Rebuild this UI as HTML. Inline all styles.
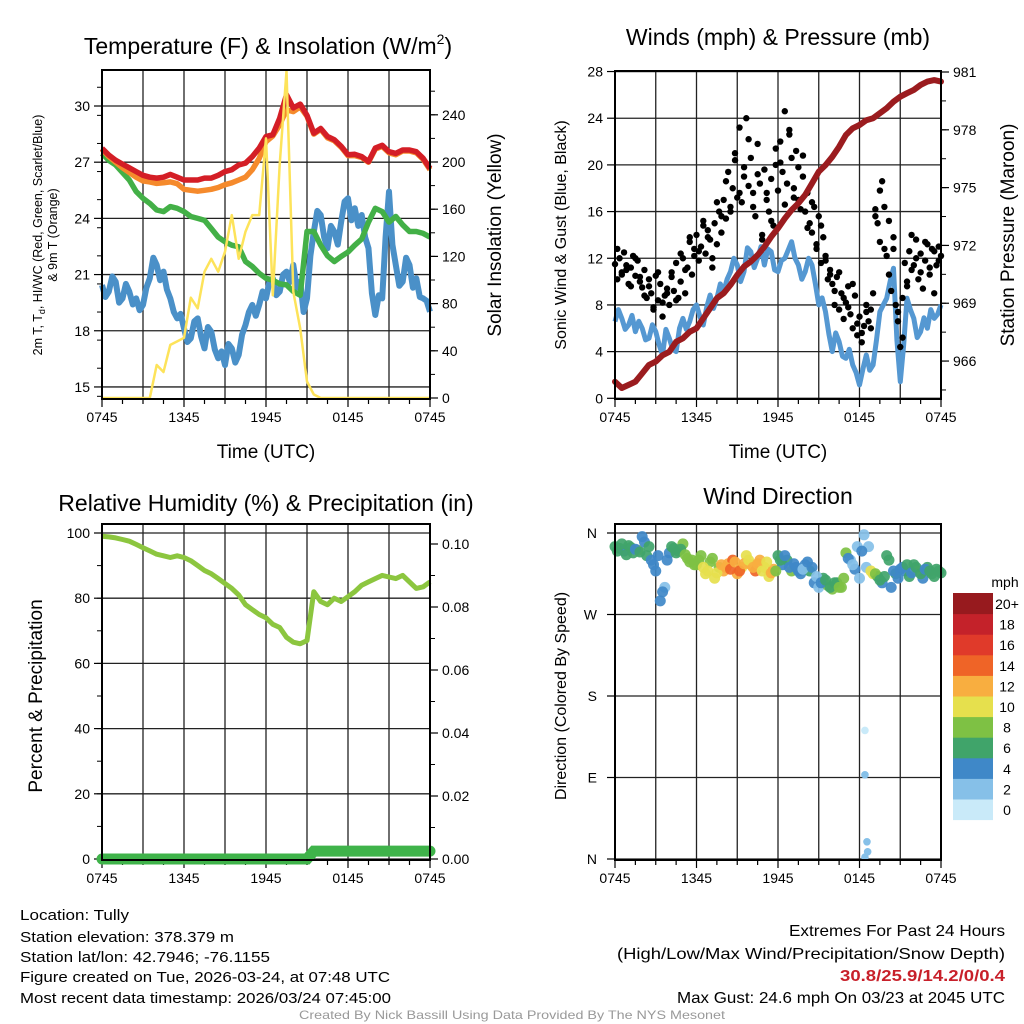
<!DOCTYPE html>
<html><head><meta charset="utf-8"><style>
html,body{margin:0;padding:0;background:#fff;}
svg{display:block;font-family:"Liberation Sans",Arial,sans-serif;}
</style></head><body>
<svg id="chart" width="1024" height="1024" viewBox="0 0 1024 1024" xmlns="http://www.w3.org/2000/svg">
<rect x="0" y="0" width="1024" height="1024" fill="#fff"/>
<g id="p1"></g>
<g id="p2"></g>
<g id="p3"></g>
<g id="p4"></g>
<g id="cb"></g>

<text x="268" y="54" font-size="23" text-anchor="middle">Temperature (F) &amp; Insolation (W/m<tspan font-size="14" dy="-10">2</tspan><tspan dy="10">)</tspan></text>
<text x="778" y="45" font-size="23" text-anchor="middle">Winds (mph) &amp; Pressure (mb)</text>
<text x="266" y="511" font-size="23" text-anchor="middle">Relative Humidity (%) &amp; Precipitation (in)</text>
<text x="778" y="504" font-size="23" text-anchor="middle">Wind Direction</text>

<text x="266" y="458" font-size="19" text-anchor="middle">Time (UTC)</text>
<text x="778" y="458" font-size="19" text-anchor="middle">Time (UTC)</text>

<text transform="translate(42,235) rotate(-90)" font-size="12.5" text-anchor="middle">2m T, T<tspan font-size="9" dy="3">d</tspan><tspan dy="-3">, HI/WC (Red, Green, Scarlet/Blue)</tspan></text>
<text transform="translate(57,235) rotate(-90)" font-size="12.5" text-anchor="middle">&amp; 9m T (Orange)</text>
<text transform="translate(501,235) rotate(-90)" font-size="19" text-anchor="middle">Solar Insolation (Yellow)</text>
<text transform="translate(566,235) rotate(-90)" font-size="16" text-anchor="middle">Sonic Wind &amp; Gust (Blue, Black)</text>
<text transform="translate(1014,235) rotate(-90)" font-size="19" text-anchor="middle">Station Pressure (Maroon)</text>
<text transform="translate(42,696) rotate(-90)" font-size="19" text-anchor="middle">Percent &amp; Precipitation</text>
<text transform="translate(566,696) rotate(-90)" font-size="16" text-anchor="middle">Direction (Colored By Speed)</text>

<g font-size="15">
<text x="20" y="920" textLength="109" lengthAdjust="spacingAndGlyphs">Location: Tully</text>
<text x="20" y="942" textLength="214" lengthAdjust="spacingAndGlyphs">Station elevation: 378.379 m</text>
<text x="20" y="962" textLength="250" lengthAdjust="spacingAndGlyphs">Station lat/lon: 42.7946; -76.1155</text>
<text x="20" y="982" textLength="370" lengthAdjust="spacingAndGlyphs">Figure created on Tue, 2026-03-24, at 07:48 UTC</text>
<text x="20" y="1003" textLength="371" lengthAdjust="spacingAndGlyphs">Most recent data timestamp: 2026/03/24 07:45:00</text>
</g>
<g font-size="16" text-anchor="end">
<text x="1005" y="936" textLength="216" lengthAdjust="spacingAndGlyphs">Extremes For Past 24 Hours</text>
<text x="1005" y="959" textLength="388" lengthAdjust="spacingAndGlyphs">(High/Low/Max Wind/Precipitation/Snow Depth)</text>
<text x="1005" y="981" fill="#c8202a" font-weight="bold" textLength="165" lengthAdjust="spacingAndGlyphs">30.8/25.9/14.2/0/0.4</text>
<text x="1005" y="1003" textLength="328" lengthAdjust="spacingAndGlyphs">Max Gust: 24.6 mph On 03/23 at 2045 UTC</text>
</g>
<text x="512" y="1019" font-size="12" fill="#999" text-anchor="middle" textLength="426" lengthAdjust="spacingAndGlyphs">Created By Nick Bassill Using Data Provided By The NYS Mesonet</text>
</svg>
<script>
// ---------- data ----------
const xTickLabels = ["0745","1345","1945","0145","0745"];
const tempTicks = [15,18,21,24,27,30];
const solarTicks = [0,40,80,120,160,200,240];
const windTicks = [0,4,8,12,16,20,24,28];
const pressTicks = [966,969,972,975,978,981];
const rhTicks = [0,20,40,60,80,100];
const precipTicks = [0,0.02,0.04,0.06,0.08,0.10];
const dirTicks = [0,90,180,270,360];
const dirLabels = ["N","E","S","W","N"];
const speedBins = ["0","2","4","6","8","10","12","14","16","18","20+"];
const speedColors = ["#c9eaf9","#86c0e8","#3f88c8","#40a46a","#7ec144","#e6e04d","#f8ae40","#ef6427","#e03a2a","#c4222a","#971a1e"];

const tempRed = [27.74,27.38,27.1,26.9,26.7,26.5,26.3,26.2,26.15,26.2,26.35,26.2,26.05,26.05,26.05,26.15,26.15,26.3,26.5,26.6,26.85,26.95,27.3,27.75,28.37,28.46,29.35,30.6,29.9,30.1,29.5,28.55,28.8,28.37,28.2,27.85,27.4,27.42,27.3,27.03,27.75,27.9,27.56,27.47,27.65,27.65,27.56,27.2,26.67];
const temp9m = [27.7,27.3,27.0,26.7,26.45,26.2,26.0,25.95,25.87,25.9,25.95,25.85,25.55,25.5,25.45,25.5,25.55,25.65,25.8,25.9,26.05,26.2,26.6,27.2,28.1,28.4,29.0,29.8,29.7,29.95,29.45,28.5,28.75,28.3,28.15,27.8,27.35,27.35,27.25,27.0,27.7,27.85,27.5,27.4,27.6,27.6,27.5,27.15,26.6];
const tempHI = [27.47,27.1,26.85,26.45,26.05,25.43,25.07,24.8,24.45,24.36,24.63,24.54,24.36,24.1,24.0,23.9,23.46,23.0,22.75,22.57,22.48,21.7,21.43,21.07,20.8,20.7,20.5,20.45,20.1,19.9,23.3,23.3,22.57,22.0,21.7,21.97,22.2,22.57,22.9,23.8,24.54,24.36,23.8,24.1,23.65,23.3,23.3,23.2,23.0];
const dewpoint = [20.44,19.8,20.09,20.9,20.62,19.5,19.73,20.5,20.09,19.4,19.73,19.1,19.38,20.3,20.8,21.9,21.51,20.7,21.16,20.2,19.73,19.0,18.66,18.9,18.13,17.4,17.6,18.5,18.66,17.7,17.06,18.2,17.95,17.0,16.53,16.9,16.17,17.3,17.06,16.3,16.71,17.8,18.31,19.0,19.38,18.8,19.38,20.1,19.73,20.6,20.8,19.9,20.09,21.0,21.16,20.6,21.51,20.3,20.62,19.0,19.73,22.0,23.29,24.4,24.18,23.0,22.4,23.6,23.29,22.6,23.83,24.9,25.07,23.9,24.54,23.6,24.18,23.0,22.4,20.0,18.84,19.9,19.73,23.0,25.43,22.6,21.51,20.4,20.62,21.9,21.51,20.3,20.8,19.8,19.73,19.6,19.02];
const solar = [0,0,0,0,0,0,0,0,28,22,45,48,51,85,76,107,118,107,124,155,118,141,155,155,220,87,198,277,90,59,14,3,0,0,0,0,0,0,0,0,0,0,0,0,0,0,0,0,0];

const windSpeed = [6.57,7.6,6.85,5.9,6.28,7.1,5.71,6.6,6.0,5.0,5.14,6.3,5.71,4.6,3.71,5.9,5.14,4.2,4.0,6.0,6.85,5.9,6.57,7.6,8.0,7.0,6.28,7.8,8.85,7.7,8.57,9.8,9.14,10.2,10.85,12.0,11.42,10.0,10.85,12.9,12.56,11.2,12.0,13.0,11.42,12.8,12.56,11.0,10.85,11.8,12.0,12.7,13.42,12.0,11.42,10.2,10.85,12.0,11.42,9.8,8.0,8.6,7.42,5.5,4.0,5.6,4.85,3.6,3.43,4.2,2.86,2.2,1.14,2.5,3.71,2.4,2.86,5.0,7.42,8.0,8.57,10.0,11.14,5.0,1.42,4.5,8.57,7.6,6.85,5.2,5.71,6.9,6.0,7.6,6.85,7.2,8.0];
const windGust = [11.5,10.2,12.0,10.8,12.5,11.0,9.8,11.2,12.2,10.5,11.8,10.0,9.5,11.0,8.6,10.2,9.0,7.6,10.5,8.4,9.8,7.0,8.8,9.4,8.0,10.4,9.2,11.6,8.6,10.0,12.0,9.0,11.2,13.4,10.6,12.8,14.0,11.8,13.0,15.2,12.4,14.4,13.6,11.2,15.0,13.2,16.0,14.2,17.0,15.4,19.4,16.4,18.0,21.0,17.2,23.2,16.8,19.0,24.0,18.2,20.6,17.6,15.6,21.8,18.4,14.0,19.6,17.0,16.0,18.8,14.8,20.0,17.8,22.0,19.4,24.6,18.4,23.0,20.6,17.2,21.2,19.8,16.2,19.0,16.0,17.6,15.0,14.2,16.4,13.2,15.6,11.6,13.8,12.2,10.2,11.0,9.8,8.0,10.4,7.6,9.0,6.8,8.2,9.6,7.2,6.0,8.8,5.4,7.0,4.8,6.2,8.0,6.6,7.6,9.0,16.2,15.0,13.4,18.6,16.4,12.2,15.2,9.2,12.8,8.0,6.6,4.4,8.6,11.6,10.0,12.6,14.0,11.4,13.6,10.2,12.4,9.4,11.8,13.2,10.6,12.8,9.0,11.4,13.0,12.2];
const windGust2 = [12.8,10.6,11.4,9.6,12.0,10.4,8.8,9.6,7.8,10.8,8.2,9.0,10.8,8.4,12.4,11.0,13.8,12.2,12.6,14.8,13.8,12.0,16.8,15.6,18.6,16.0,20.4,17.6,19.8,22.2,16.4,19.2,13.6,17.6,15.2,21.4,20.2,16.6,22.6,18.0,17.0,20.8,14.6,16.8,12.8,14.8,11.8,10.6,9.2,10.8,8.6,7.8,9.8,6.4,5.6,7.4,6.0,15.6,17.8,12.8,10.6,13.8,7.4,5.2,9.6,11.0,12.0,10.8,13.4,11.2,12.6,11.8];
const pressure = [964.93,964.6,964.76,964.93,965.36,965.8,965.97,966.3,966.48,967.0,967.18,967.52,967.7,968.22,968.74,969.26,969.52,969.95,970.47,970.9,971.16,971.5,971.93,972.45,972.89,973.4,973.84,974.19,974.62,975.22,975.83,976.17,976.6,977.12,977.73,978.08,978.25,978.5,978.6,978.86,979.12,979.46,979.72,979.9,980.07,980.33,980.5,980.58,980.5];

const humidity = [99,98.8,98.5,98,97.5,96.5,95.5,94.5,93.5,93,92.5,93,92.5,91.5,90,88.5,87.5,86,84.5,83,81,78,76.5,75,74,72,71,68,66.5,66,67,82,79,78,80,79,80.5,82,84,85,86,87,86.5,86,87,85,83,83.5,85];
const precip = [0,0,0,0,0,0,0,0,0,0,0,0,0,0,0,0,0,0,0,0,0,0,0,0,0,0,0,0,0,0,0,0.0025,0.0025,0.0025,0.0025,0.0025,0.0025,0.0025,0.0025,0.0025,0.0025,0.0025,0.0025,0.0025,0.0025,0.0025,0.0025,0.0025,0.0025];

const windDir = [345,343,340,346,338,341,356,335,330,318,285,300,338,343,340,348,332,330,325,335,315,328,310,322,318,326,330,315,322,335,325,318,330,322,312,320,335,325,330,318,322,315,325,318,305,300,310,302,298,305,300,338,330,320,310,358,345,315,312,305,335,300,315,320,318,312,325,318,310,322,315,320,316];
const dirSpeed = [6,6,5,7,6,8,4,6,5,4,4,3,5,7,6,8,8,9,8,9,10,8,11,9,12,13,15,12,11,10,13,14,12,11,10,13,7,5,6,8,5,4,4,6,4,3,7,8,8,7,9,8,3,4,3,2,3,10,6,5,7,5,6,4,5,6,7,8,5,6,7,6,6];
const windDir2 = [340,348,336,344,342,339,350,345,325,335,295,330,345,338,342,336,328,325,330,322,318,332,316,325,322,320,328,318,326,330,322,326,318,328,316,318,330,335,322,326,318,320,328,322,312,305,308,300,305,300,310,332,325,345,340,322,318,315,308,312,330,318,310,322,325,316,322,315,320,318,312,318];
const dirSpeed2 = [7,6,6,7,5,6,5,6,4,5,4,5,6,6,7,8,9,8,9,10,11,9,10,12,13,14,12,15,13,11,12,13,11,10,12,9,6,5,4,5,4,3,5,4,3,4,6,7,7,8,8,5,3,2,4,3,10,9,7,6,6,4,5,4,6,5,7,6,5,7,6,6];
const outlierHours = [18.4,18.4,18.55,18.6,18.4];
const outlierDir = [142,93,19,8,2];
const outlierSpeed = [1,3,2,3,3];

// ---------- helpers ----------
const NS = "http://www.w3.org/2000/svg";
function mk(parent, tag, attrs){
  const e = document.createElementNS(NS, tag);
  for (const k in attrs) e.setAttribute(k, attrs[k]);
  parent.appendChild(e);
  return e;
}
function hours(n,i){ return i*24/(n-1); }
function hours2(n,i){ return Math.min(24, i*24/n + 0.17); }
function pathFrom(arr, xf, yf){
  let d="";
  for(let i=0;i<arr.length;i++){ d += (i?"L":"M")+xf(hours(arr.length,i)).toFixed(1)+","+yf(arr[i]).toFixed(1); }
  return d;
}
function frame(g, L, T, R, B, xf, hgrid){
  for(let h=3;h<24;h+=3){
    const gl = mk(g,"line",{x1:xf(h),x2:xf(h),y1:T,y2:B,stroke:"#222","stroke-width":1.3});
    
    
  }
  hgrid.forEach(y=>{
    const hl = mk(g,"line",{x1:L,x2:R,y1:y,y2:y,stroke:"#222","stroke-width":1.3});
    
    
  });
  for(let h=0;h<=24;h+=1.5){
    const major = (h%6===0);
    const t = mk(g,"line",{x1:xf(h),x2:xf(h),y1:B,y2:B+(major?8:5),stroke:"#000","stroke-width":1.2});
    
    
  }
  xTickLabels.forEach((s,i)=>{
    const tx = mk(g,"text",{x:xf(i*6),y:B+23,"font-size":14,"text-anchor":"middle"});
    tx.textContent = s;
    
    
  });
}
function border(g,L,T,R,B){
  const b = mk(g,"rect",{x:L,y:T,width:R-L,height:B-T,fill:"none",stroke:"#000","stroke-width":2});
  
  
}
function yAxis(g, ticks, yf, x, side, fmt, minorStep, lo, hi){
  ticks.forEach(v=>{
    const y=yf(v);
    const t = mk(g,"line",{x1:x,x2:x+(side<0?-8:8),y1:y,y2:y,stroke:"#000","stroke-width":1.2});
    
    
    const tx = mk(g,"text",{x:x+(side<0?-12:12),y:y+5,"font-size":14,"text-anchor":side<0?"end":"start"});
    tx.textContent = fmt(v);
    
    
  });
  if(minorStep){
    for(let v=lo; v<=hi+1e-9; v+=minorStep){
      const y=yf(v);
      const m = mk(g,"line",{x1:x,x2:x+(side<0?-5:5),y1:y,y2:y,stroke:"#000","stroke-width":1});
      
      
    }
  }
}

// ---------- panel 1: temperature ----------
(function(){
  const g=document.getElementById("p1");
  const L=102,R=430,T=70,B=399;
  const X=h=>L+h*(R-L)/24;
  const Y=v=>106+(30-v)*18.73;
  const YS=v=>398-v*1.18;
  frame(g,L,T,R,B,X,tempTicks.map(Y));
  yAxis(g,tempTicks,Y,L,-1,v=>String(v),1.5,14.5,31.5);
  yAxis(g,solarTicks,YS,R,1,v=>String(v),20,0,270);
  const series=[[dewpoint,"#4a90c8",6,"dewpoint-line"],[tempHI,"#43b047",5.5,"heat-index-line"],[temp9m,"#f58a2c",5.5,"temp-9m-line"],[tempRed,"#d41e26",5.5,"temp-2m-line"]];
  series.forEach(s=>{
    const p=mk(g,"path",{d:pathFrom(s[0],X,Y),fill:"none",stroke:s[1],"stroke-width":s[2],"stroke-linejoin":"round"});
    
    
  });
  const ps=mk(g,"path",{d:pathFrom(solar,X,YS),fill:"none",stroke:"#fde35a","stroke-width":2.5,"stroke-linejoin":"round"});
  
  
  border(g,L,T,R,B);
})();

// ---------- panel 2: wind & pressure ----------
(function(){
  const g=document.getElementById("p2");
  const L=615,R=941,T=71,B=399;
  const X=h=>L+h*(R-L)/24;
  const Y=v=>398.3-v*11.67;
  const YP=v=>72+(981-v)*19.27;
  frame(g,L,T,R,B,X,windTicks.map(Y));
  yAxis(g,windTicks,Y,L,-1,v=>String(v),0,0,0);
  yAxis(g,pressTicks,YP,R,1,v=>String(v),1.5,964.5,981);
  const pw=mk(g,"path",{d:pathFrom(windSpeed,X,Y),fill:"none",stroke:"#5598d2","stroke-width":5,"stroke-linejoin":"round"});
  
  
  windGust.forEach((v,i)=>{
    const c=mk(g,"circle",{cx:X(hours(windGust.length,i)),cy:Y(v),r:3.2,fill:"#000"});
    
    
  });
  windGust2.forEach((v,i)=>{
    const c=mk(g,"circle",{cx:X(hours2(windGust2.length,i)),cy:Y(v),r:3.2,fill:"#000"});
    
    
  });
  const pp=mk(g,"path",{d:pathFrom(pressure,X,YP),fill:"none",stroke:"#9b1c1f","stroke-width":6,"stroke-linejoin":"round","stroke-linecap":"round"});
  
  
  border(g,L,T,R,B);
})();

// ---------- panel 3: humidity ----------
(function(){
  const g=document.getElementById("p3");
  const L=102,R=430,T=524,B=860;
  const X=h=>L+h*(R-L)/24;
  const Y=v=>859-v*3.26;
  const YP=v=>859-v*3150;
  frame(g,L,T,R,B,X,rhTicks.map(Y));
  yAxis(g,rhTicks,Y,L,-1,v=>String(v),10,0,100);
  yAxis(g,precipTicks,YP,R,1,v=>v.toFixed(2),0.01,0,0.1);
  const pr=mk(g,"path",{d:pathFrom(precip,X,YP),fill:"none",stroke:"#3fb34a","stroke-width":11,"stroke-linecap":"round"});
  
  
  const ph=mk(g,"path",{d:pathFrom(humidity,X,Y),fill:"none",stroke:"#8cc63f","stroke-width":5,"stroke-linejoin":"round"});
  
  
  border(g,L,T,R,B);
})();

// ---------- panel 4: wind direction ----------
function speedColor(s){ return speedColors[Math.min(10,Math.max(0,Math.floor(s/2)))]; }
(function(){
  const g=document.getElementById("p4");
  const L=615,R=941,T=524,B=860;
  const X=h=>L+h*(R-L)/24;
  const Y=v=>859-v*326/360;
  frame(g,L,T,R,B,X,dirTicks.map(Y));
  dirTicks.forEach((v,i)=>{
    const t=mk(g,"line",{x1:L,x2:L-8,y1:Y(v),y2:Y(v),stroke:"#000","stroke-width":1.2});
    
    
    const tx=mk(g,"text",{x:L-18,y:Y(v)+5,"font-size":14,"text-anchor":"end"});
    tx.textContent=dirLabels[i];
    
    
  });
  windDir.forEach((d,i)=>{
    const c=mk(g,"circle",{cx:X(hours(windDir.length,i)),cy:Y(d),r:5.5,fill:speedColor(dirSpeed[i]),"fill-opacity":0.92});
    
    
  });
  windDir2.forEach((d,i)=>{
    const c=mk(g,"circle",{cx:X(hours2(windDir2.length,i)),cy:Y(d),r:5.5,fill:speedColor(dirSpeed2[i]),"fill-opacity":0.92});
    
    
  });
  outlierDir.forEach((d,i)=>{
    const c=mk(g,"circle",{cx:X(outlierHours[i]),cy:Y(d),r:3.8,fill:speedColor(outlierSpeed[i])});
    
    
  });
  border(g,L,T,R,B);
})();

// ---------- colorbar ----------
(function(){
  const g=document.getElementById("cb");
  const top=593, h=20.6, x=953, w=40;
  const n=speedBins.length;
  const t=mk(g,"text",{x:1005,y:587,"font-size":14,"text-anchor":"middle"});
  t.textContent="mph";
  
  
  speedBins.forEach((lab,i)=>{
    const k=n-1-i;
    const r=mk(g,"rect",{x:x,y:top+k*h,width:w,height:h+0.5,fill:speedColors[i]});
    
    
    const tx=mk(g,"text",{x:1007,y:top+k*h+16,"font-size":14,"text-anchor":"middle"});
    tx.textContent=lab;
    
    
  });
})();
</script>
</body></html>
